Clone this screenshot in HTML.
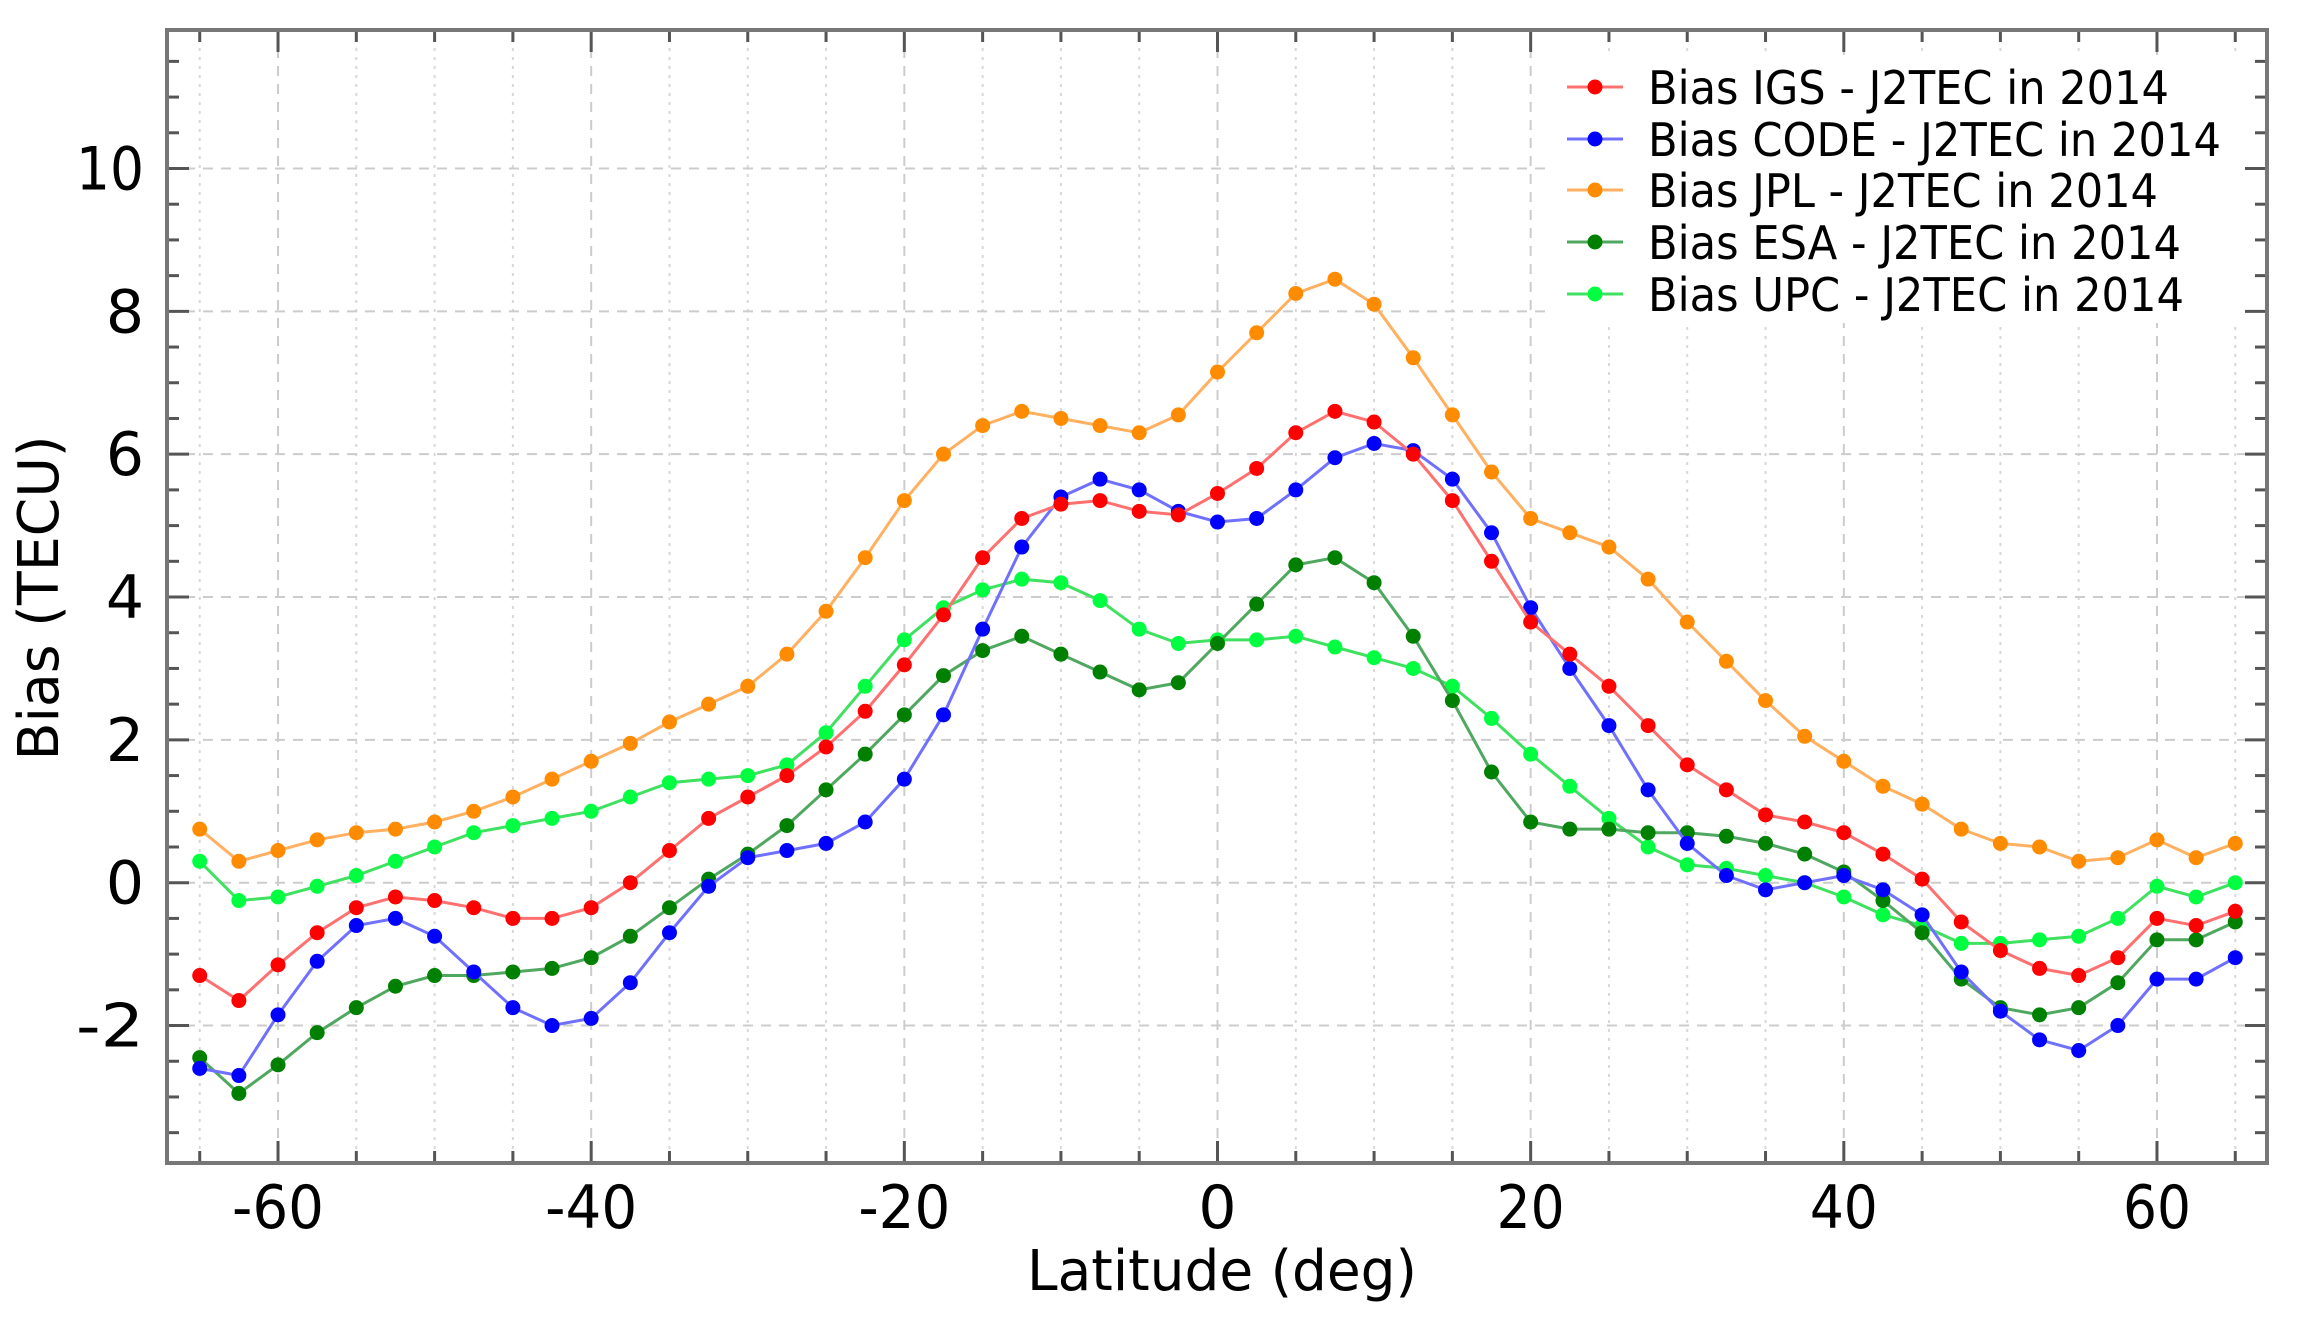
<!DOCTYPE html>
<html><head><meta charset="utf-8"><style>html,body{margin:0;padding:0;background:#fff}svg{display:block}</style></head>
<body>
<svg id="s" width="2302" height="1318" xmlns="http://www.w3.org/2000/svg" font-family="DejaVu Sans, Liberation Sans, sans-serif">
<rect width="2302" height="1318" fill="#fff"/>
<g id="grid"></g>
<g id="series"></g>
<rect x="1550" y="55" width="700" height="268" fill="#fff"/>
<g id="legend"></g>
<g id="axes"></g>
<g font-size="60" fill="#000" id="labels"></g>
<text x="1222" y="1290" font-size="56" text-anchor="middle" textLength="390" lengthAdjust="spacingAndGlyphs">Latitude (deg)</text>
<text transform="translate(58,598) rotate(-90)" font-size="56" text-anchor="middle" textLength="325" lengthAdjust="spacingAndGlyphs">Bias (TECU)</text>
</svg>
<script>
const NS="http://www.w3.org/2000/svg";
const L=167,R=2267,T=30,B=1163;
const X=v=>1217.5+v*15.658, Y=v=>882.7-v*71.42;
function el(p,t,a,txt){const e=document.createElementNS(NS,t);for(const k in a)e.setAttribute(k,a[k]);if(txt!==undefined)e.textContent=txt;p.appendChild(e);return e;}
const g=document.getElementById('grid'),ax=document.getElementById('axes'),lb=document.getElementById('labels');
for(let v=-65;v<=65;v+=5){const x=X(v);const maj=v%20==0;
 el(g,'line',{x1:x,x2:x,y1:T,y2:B,stroke:maj?'#ccc':'#d8d8d8','stroke-width':2,'stroke-dasharray':maj?'10,8':'3,6'});
 const len=maj?22:12;
 el(ax,'line',{x1:x,x2:x,y1:B,y2:B-len,stroke:'#555','stroke-width':3});
 el(ax,'line',{x1:x,x2:x,y1:T,y2:T+len,stroke:'#555','stroke-width':3});
 if(maj){const s=String(v);const a={x:x,y:1228,'text-anchor':'middle'};if(v!=0){a.textLength=v<0?92:68;a.lengthAdjust='spacingAndGlyphs';}el(lb,'text',a,s);}
}
for(let v=-3.5;v<=11.5;v+=0.5){const y=Y(v);const maj=Math.abs(v%2)<1e-9;
 if(maj)el(g,'line',{x1:L,x2:R,y1:y,y2:y,stroke:'#ccc','stroke-width':2,'stroke-dasharray':'10,8'});
 const len=maj?22:12;
 el(ax,'line',{x1:L,x2:L+len,y1:y,y2:y,stroke:'#555','stroke-width':3});
 el(ax,'line',{x1:R,x2:R-len,y1:y,y2:y,stroke:'#555','stroke-width':3});
 if(maj){const s=String(v);const a={x:144,y:y+21,'text-anchor':'end'};if(s.length>1){a.textLength=68;a.lengthAdjust='spacingAndGlyphs';}el(lb,'text',a,s);}
}
el(ax,'rect',{x:L,y:T,width:R-L,height:B-T,fill:'none',stroke:'#777','stroke-width':4});
const D={
IGS:[-1.3,-1.65,-1.15,-0.7,-0.35,-0.2,-0.25,-0.35,-0.5,-0.5,-0.35,0,0.45,0.9,1.2,1.5,1.9,2.4,3.05,3.75,4.55,5.1,5.3,5.35,5.2,5.15,5.45,5.8,6.3,6.6,6.45,6.0,5.35,4.5,3.65,3.2,2.75,2.2,1.65,1.3,0.95,0.85,0.7,0.4,0.05,-0.55,-0.95,-1.2,-1.3,-1.05,-0.5,-0.6,-0.4],
CODE:[-2.6,-2.7,-1.85,-1.1,-0.6,-0.5,-0.75,-1.25,-1.75,-2.0,-1.9,-1.4,-0.7,-0.05,0.35,0.45,0.55,0.85,1.45,2.35,3.55,4.7,5.4,5.65,5.5,5.2,5.05,5.1,5.5,5.95,6.15,6.05,5.65,4.9,3.85,3.0,2.2,1.3,0.55,0.1,-0.1,0,0.1,-0.1,-0.45,-1.25,-1.8,-2.2,-2.35,-2.0,-1.35,-1.35,-1.05],
JPL:[0.75,0.3,0.45,0.6,0.7,0.75,0.85,1.0,1.2,1.45,1.7,1.95,2.25,2.5,2.75,3.2,3.8,4.55,5.35,6.0,6.4,6.6,6.5,6.4,6.3,6.55,7.15,7.7,8.25,8.45,8.1,7.35,6.55,5.75,5.1,4.9,4.7,4.25,3.65,3.1,2.55,2.05,1.7,1.35,1.1,0.75,0.55,0.5,0.3,0.35,0.6,0.35,0.55],
ESA:[-2.45,-2.95,-2.55,-2.1,-1.75,-1.45,-1.3,-1.3,-1.25,-1.2,-1.05,-0.75,-0.35,0.05,0.4,0.8,1.3,1.8,2.35,2.9,3.25,3.45,3.2,2.95,2.7,2.8,3.35,3.9,4.45,4.55,4.2,3.45,2.55,1.55,0.85,0.75,0.75,0.7,0.7,0.65,0.55,0.4,0.15,-0.25,-0.7,-1.35,-1.75,-1.85,-1.75,-1.4,-0.8,-0.8,-0.55],
UPC:[0.3,-0.25,-0.2,-0.05,0.1,0.3,0.5,0.7,0.8,0.9,1.0,1.2,1.4,1.45,1.5,1.65,2.1,2.75,3.4,3.85,4.1,4.25,4.2,3.95,3.55,3.35,3.4,3.4,3.45,3.3,3.15,3.0,2.75,2.3,1.8,1.35,0.9,0.5,0.25,0.2,0.1,0,-0.2,-0.45,-0.6,-0.85,-0.85,-0.8,-0.75,-0.5,-0.05,-0.2,0]};
const C={IGS:['#ff0000','#ff7070'],CODE:['#0000ff','#7070ff'],JPL:['#ff8c00','#ffb060'],ESA:['#008000','#50a860'],UPC:['#00ff40','#40e060']};
const se=document.getElementById('series'),lg=document.getElementById('legend');
['UPC','ESA','JPL','CODE','IGS'].forEach(k=>{const d=D[k];let p='';const gg=el(se,'g',{});
 d.forEach((v,i)=>{p+=(i?'L':'M')+X(-65+2.5*i).toFixed(1)+','+Y(v).toFixed(1);});
 el(gg,'path',{d:p,fill:'none',stroke:C[k][1],'stroke-width':3});
 d.forEach((v,i)=>el(gg,'circle',{cx:X(-65+2.5*i),cy:Y(v),r:7.5,fill:C[k][0]}));
});
const names=['IGS','CODE','JPL','ESA','UPC'],ys=[87,139,190,242,294],tw=[521,573,510,533,536];
names.forEach((k,i)=>{const y=ys[i];
 el(lg,'line',{x1:1567,x2:1623,y1:y,y2:y,stroke:C[k][1],'stroke-width':3});
 el(lg,'circle',{cx:1595,cy:y,r:7.5,fill:C[k][0]});
 el(lg,'text',{x:1648,y:y+17,'font-size':46,textLength:tw[i],lengthAdjust:'spacingAndGlyphs'},'Bias '+k+' - J2TEC in 2014');
});
</script>
</body></html>
